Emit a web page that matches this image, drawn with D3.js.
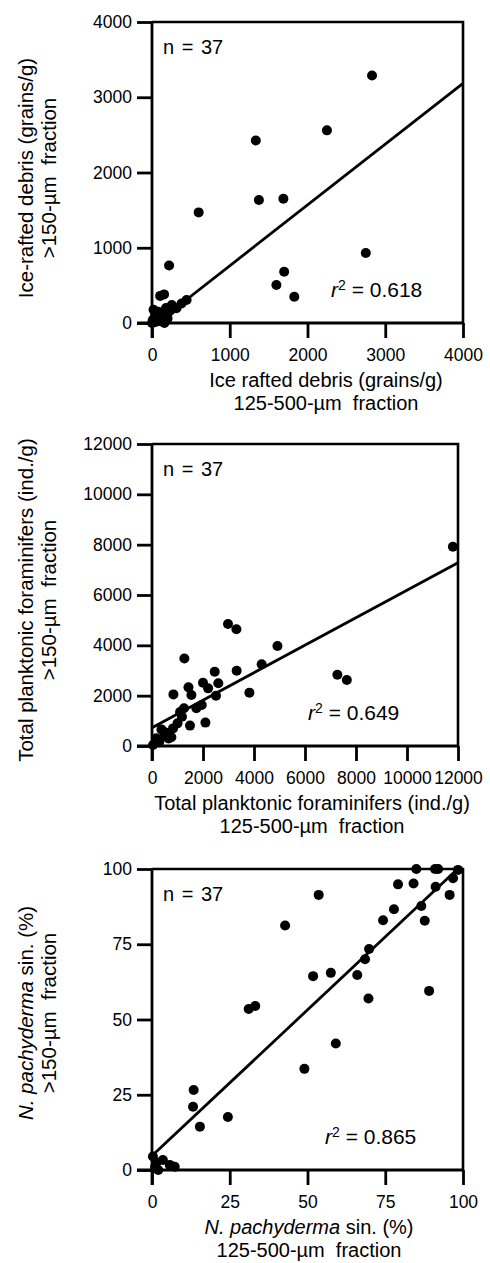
<!DOCTYPE html>
<html>
<head>
<meta charset="utf-8">
<script src="https://cdn.jsdelivr.net/npm/d3@7"></script>
<style>
  body { margin: 0; background: #fff; }
  svg text { font-family: "Liberation Sans", Arial, sans-serif; fill: #000; }
</style>
</head>
<body>
<div id="chart"></div>
<script>
// --- data ---
// panel 1: ice rafted debris (grains/g)
var ird125 = [2830, 2250, 1335, 600, 1375, 1690, 2750, 1700, 1600, 1830, 220, 155, 105, 20, 445, 380, 315, 255,
  0, 30, 60, 90, 120, 150, 180, 210, 240, 270, 50, 100, 130, 160, 200, 10, 40, 80, 180];
var ird150 = [3290, 2560, 2425, 1470, 1635, 1650, 930, 680, 505, 350, 765, 380, 360, 175, 305, 260, 195, 240,
  0, 10, 20, 30, 60, 90, 110, 140, 170, 200, 60, 120, 20, 0, 60, 40, 100, 150, 200];
var irdTicks = [0, 1000, 2000, 3000, 4000];
var irdFit = { intercept: -48, slope: 0.808, r2: "0.618" };

// panel 2: total planktonic foraminifers (ind./g)
var pf125 = [2980, 3310, 4920, 1270, 4300, 2460, 3320, 7270, 7640, 2000, 2600, 1430, 2200, 1545, 840, 2510, 3820,
  1255, 1740, 1950, 1175, 1490, 2095, 825, 370, 760, 630, 175, 40, 300, 500, 11800, 500, 1000, 280, 650, 1100];
var pf150 = [4850, 4640, 3970, 3480, 3245, 2950, 2990, 2830, 2620, 2515, 2490, 2330, 2290, 2025, 2050, 2000, 2120,
  1500, 1500, 1630, 1165, 810, 930, 700, 660, 345, 500, 305, 40, 240, 440, 7920, 550, 900, 150, 300, 1350];
var pfTicks = [0, 2000, 4000, 6000, 8000, 10000, 12000];
var pfFit = { intercept: 727, slope: 0.5463, r2: "0.649" };

// panel 3: N. pachyderma sin. (%)
var nps125 = [85, 91, 92, 98.4, 96.8, 79.1, 84.1, 91.2, 95.7, 53.6, 86.6, 77.8, 74.3, 87.7, 42.8, 69.8, 68.5, 57.5,
  51.8, 66, 89.1, 69.6, 31.1, 33.2, 59.1, 49, 13.4, 13.2, 24.4, 15.4, 0.3, 3.5, 5.7, 7.3, 1, 2, 1.5];
var nps150 = [100, 100, 100, 99.7, 96.9, 94.9, 95.2, 94.1, 91.4, 91.4, 87.7, 86.6, 83, 82.8, 81.2, 73.4, 70, 65.5,
  64.4, 64.8, 59.5, 57, 53.5, 54.5, 42, 33.6, 26.6, 21, 17.6, 14.4, 4.5, 3.3, 1.7, 1.1, 1, 0, 2.5];
var npsTicks = [0, 25, 50, 75, 100];
var npsFit = { intercept: 4.7, slope: 0.97, r2: "0.865" };

var sampleCount = "n = 37";

// --- layout ---
var panels = [
  { xs: ird125, ys: ird150, xTicks: irdTicks, yTicks: irdTicks, fit: irdFit,
    left: 152, right: 463, top: 22, bottom: 323, r2dx: -132, xTitleX: 326, yTitleY: 178,
    xTitle: [[["Ice rafted debris (grains/g)", false]], [["125-500-\u00b5m  fraction", false]]],
    yTitle: [[["Ice-rafted debris (grains/g)", false]], [[">150-\u00b5m  fraction", false]]] },
  { xs: pf125, ys: pf150, xTicks: pfTicks, yTicks: pfTicks, fit: pfFit,
    left: 152, right: 458, top: 444, bottom: 746, r2dx: -150, xTitleX: 312, yTitleY: 600,
    xTitle: [[["Total planktonic foraminifers (ind./g)", false]], [["125-500-\u00b5m  fraction", false]]],
    yTitle: [[["Total planktonic foraminifers (ind./g)", false]], [[">150-\u00b5m  fraction", false]]] },
  { xs: nps125, ys: nps150, xTicks: npsTicks, yTicks: npsTicks, fit: npsFit,
    left: 152, right: 463, top: 869, bottom: 1170, r2dx: -138, xTitleX: 309, yTitleY: 1013,
    xTitle: [[["N. pachyderma", true], [" sin. (%)", false]], [["125-500-\u00b5m  fraction", false]]],
    yTitle: [[["N. pachyderma", true], [" sin. (%)", false]], [[">150-\u00b5m  fraction", false]]] }
];

var svg = d3.select("#chart").append("svg")
  .attr("width", 490)
  .attr("height", 1263);

function addLine(g, parts) {
  parts.forEach(function(p) {
    g.append("tspan")
      .attr("font-style", p[1] ? "italic" : "normal")
      .text(p[0]);
  });
}

panels.forEach(function(p) {
  var x = d3.scaleLinear()
    .domain([p.xTicks[0], p.xTicks[p.xTicks.length - 1]])
    .range([p.left, p.right]);
  var y = d3.scaleLinear()
    .domain([p.yTicks[0], p.yTicks[p.yTicks.length - 1]])
    .range([p.bottom, p.top]);
  var tick = 15;

  var g = svg.append("g");

  // frame (top + right)
  g.append("path")
    .attr("d", "M" + x.range()[0] + "," + y.range()[1] + "H" + x.range()[1] + "V" + y.range()[0])
    .attr("fill", "none")
    .attr("stroke", "#000")
    .attr("stroke-width", 2.6);

  var yAxis = d3.axisLeft(y).tickValues(p.yTicks).tickFormat(d3.format("d"))
    .tickSize(tick).tickPadding(5).tickSizeOuter(0);
  var xAxis = d3.axisBottom(x).tickValues(p.xTicks).tickFormat(d3.format("d"))
    .tickSize(tick).tickPadding(11).tickSizeOuter(0);

  g.append("g")
    .attr("transform", "translate(" + p.left + ",0)")
    .call(yAxis)
    .call(function(a) {
      a.select(".domain").remove();
      a.selectAll("line").attr("stroke-width", 2.8);
      a.selectAll("text").attr("font-size", 17.5).attr("font-family", null);
    });

  g.append("g")
    .attr("transform", "translate(0," + p.bottom + ")")
    .call(xAxis)
    .call(function(a) {
      a.select(".domain").remove();
      a.selectAll("line").attr("stroke-width", 2.8);
      a.selectAll("text").attr("font-size", 17.5).attr("font-family", null);
    });

  // axis lines crossing at the origin
  g.append("line")
    .attr("x1", x.range()[0]).attr("x2", x.range()[0])
    .attr("y1", y.range()[1]).attr("y2", y.range()[0] + tick)
    .attr("stroke", "#000").attr("stroke-width", 2.8);
  g.append("line")
    .attr("x1", x.range()[0] - tick).attr("x2", x.range()[1])
    .attr("y1", y.range()[0]).attr("y2", y.range()[0])
    .attr("stroke", "#000").attr("stroke-width", 2.8);

  // regression line clipped to the plot box
  var xd = x.domain(), yd = y.domain();
  var f = p.fit;
  var xa = Math.max(xd[0], (yd[0] - f.intercept) / f.slope);
  var xb = Math.min(xd[1], (yd[1] - f.intercept) / f.slope);
  g.append("line")
    .attr("x1", x(xa)).attr("y1", y(f.intercept + f.slope * xa))
    .attr("x2", x(xb)).attr("y2", y(f.intercept + f.slope * xb))
    .attr("stroke", "#000")
    .attr("stroke-width", 2.8);

  // points
  g.selectAll("circle")
    .data(p.xs.map(function(v, i) { return [v, p.ys[i]]; }))
    .enter().append("circle")
    .attr("cx", function(d) { return x(d[0]); })
    .attr("cy", function(d) { return y(d[1]); })
    .attr("r", 5)
    .attr("fill", "#000");

  // n and r2
  g.append("text")
    .attr("x", p.left + 11)
    .attr("y", p.top + 32)
    .attr("font-size", 20)
    .attr("word-spacing", 2)
    .attr("xml:space", "preserve")
    .text(sampleCount);

  var r2 = g.append("text")
    .attr("x", p.right + p.r2dx)
    .attr("y", p.bottom - 26)
    .attr("font-size", 21);
  r2.append("tspan").attr("font-style", "italic").text("r");
  r2.append("tspan").attr("font-size", 14).attr("dy", -7).text("2");
  r2.append("tspan").attr("dy", 7).text(" = " + f.r2);

  // x title
  p.xTitle.forEach(function(line, i) {
    var t = g.append("text")
      .attr("x", p.xTitleX)
      .attr("y", p.bottom + 64 + i * 23)
      .attr("text-anchor", "middle")
      .attr("font-size", 20)
      .attr("xml:space", "preserve");
    addLine(t, line);
  });

  // y title
  p.yTitle.forEach(function(line, i) {
    var t = g.append("text")
      .attr("transform", "translate(" + (33 + i * 23) + "," + p.yTitleY + ") rotate(-90)")
      .attr("text-anchor", "middle")
      .attr("font-size", 20.5)
      .attr("xml:space", "preserve");
    addLine(t, line);
  });
});
</script>
</body>
</html>
